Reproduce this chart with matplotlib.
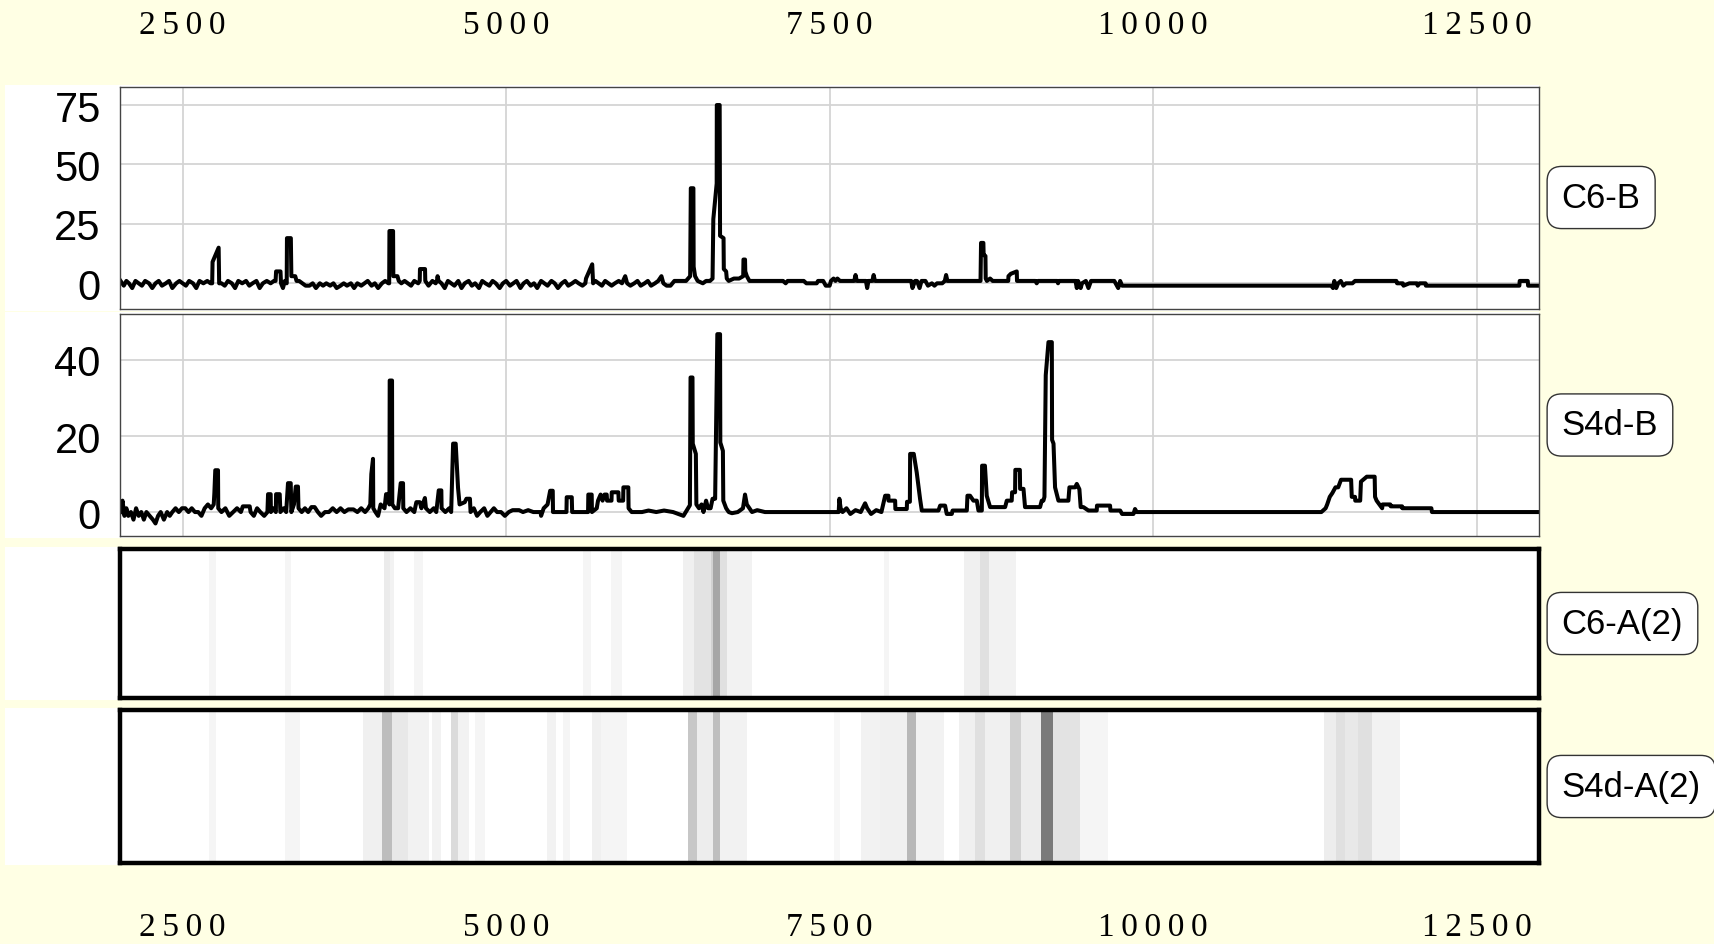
import matplotlib
matplotlib.use("Agg")
import matplotlib.pyplot as plt
from matplotlib.patches import Rectangle
from matplotlib.transforms import blended_transform_factory

plt.rcParams['font.family'] = ['Liberation Sans', 'DejaVu Sans']

# --------------------
# data
# --------------------
x_ticks = [2500, 5000, 7500, 10000, 12500]
x_range = (2018, 12982)

c6_yticks = [0, 25, 50, 75]
s4d_yticks = [0, 20, 40]

# C6-B coverage track (position, value)
c6_b = [
    (2020, 1), (2045, -1), (2065, 1), (2085, 0), (2110, -2), (2135, 1), (2160, 0), (2185, -1),
    (2210, 1), (2240, 0), (2265, -2), (2290, 0), (2315, 1), (2340, -1), (2370, 0), (2395, 1),
    (2420, -2), (2450, 0), (2475, 1), (2500, 0), (2525, -1), (2550, 1), (2580, 0), (2605, -2),
    (2630, 1), (2660, 0), (2690, 1), (2715, 0),
    (2728, 0), (2731, 9), (2778, 15), (2782, 0),
    (2800, 0), (2825, -1), (2850, 1), (2880, 0), (2905, -2), (2930, 1), (2960, 0), (2990, 1),
    (3015, -1), (3040, 0), (3070, 1), (3095, -2), (3120, 0), (3150, 1), (3180, 0), (3205, 1),
    (3218, 1), (3222, 5), (3256, 5), (3260, 0), (3275, -2), (3290, 1), (3304, 0), (3306, 19),
    (3336, 19), (3340, 3), (3370, 3), (3380, 1),
    (3400, 1), (3425, 0), (3450, -1), (3480, -1), (3505, 0), (3530, -2), (3560, 0), (3585, -1),
    (3610, 0), (3640, -1), (3665, 0), (3690, -2), (3720, -1), (3745, 0), (3770, -1), (3800, 0),
    (3825, -2), (3850, 0), (3880, -1), (3905, 0), (3930, 1), (3960, -1), (3985, 0), (4010, -2),
    (4040, 0), (4065, 1), (4090, 0),
    (4096, 0), (4098, 22), (4126, 22), (4128, 3), (4160, 3), (4170, 1),
    (4190, 0), (4215, 1), (4240, 0), (4265, -1), (4290, 1), (4320, 0), (4332, 1), (4334, 6),
    (4373, 6), (4375, 1), (4400, -1), (4430, 1), (4455, 0), (4465, 1), (4470, 3), (4478, 1),
    (4500, 0), (4525, -2), (4550, 1),
    (4575, 0), (4600, -1), (4630, 1), (4655, -2), (4680, 0), (4710, 1), (4735, -1), (4760, 0),
    (4790, -2), (4815, 1), (4840, 0), (4870, -1), (4895, 1), (4920, 0), (4950, -2), (4975, 0),
    (5000, 1), (5030, -1), (5055, 0), (5080, 1), (5110, -2), (5135, 0), (5160, 1), (5190, -1),
    (5215, 0), (5240, -2), (5270, 1), (5295, 0), (5320, -1), (5350, 1), (5375, 0), (5400, -2),
    (5430, 0), (5455, 1), (5480, -1), (5510, 0), (5535, 1), (5560, 0), (5590, -1),
    (5612, 0), (5617, 2), (5665, 8), (5672, 0),
    (5690, 1), (5715, 0), (5740, -1), (5765, 1), (5790, 0), (5815, -1), (5840, 0), (5870, 1),
    (5895, 0), (5920, 3), (5935, 0), (5960, -1), (5990, 0), (6015, 1), (6040, -1), (6070, 0),
    (6095, 1), (6120, -1), (6150, 0), (6175, 1), (6200, 3), (6215, 0), (6240, -1), (6270, -1),
    (6300, 1), (6390, 1),
    (6422, 3), (6427, 40), (6447, 40), (6449, 7), (6460, 3), (6480, 1), (6520, 0), (6545, 1),
    (6575, 1), (6595, 2), (6601, 27), (6627, 42), (6628, 75), (6650, 75), (6653, 20), (6680, 19),
    (6682, 6), (6700, 5), (6705, 2), (6720, 1), (6760, 2), (6800, 2), (6832, 3), (6834, 10),
    (6846, 10), (6848, 5), (6860, 3), (6880, 1),
    (6950, 1), (7140, 1), (7160, 0), (7175, 1), (7300, 1), (7320, 0), (7400, 0), (7410, 1),
    (7450, 1), (7470, -1), (7500, -1), (7510, 1), (7530, 2), (7545, 1), (7560, 2), (7580, 1),
    (7690, 1), (7700, 3.5), (7710, 1), (7780, 1), (7790, -2), (7800, 1), (7830, 1), (7840, 3.5),
    (7850, 1), (8130, 1), (8140, -2), (8160, 1), (8175, 1), (8195, -2), (8210, 1), (8240, 1),
    (8260, -1), (8290, 0), (8310, -1), (8330, 0), (8370, 0), (8390, 1), (8400, 3.5), (8410, 1),
    (8666, 1), (8670, 17), (8688, 17), (8690, 12), (8704, 11.5), (8706, 2), (8715, 1), (8740, 2),
    (8760, 1), (8880, 1), (8882, 3), (8900, 4), (8946, 5), (8948, 1), (9090, 1), (9100, 0),
    (9110, 1), (9260, 1), (9265, 0), (9270, 1), (9400, 1), (9410, -2), (9420, 1), (9440, -2),
    (9450, 0), (9480, 1), (9500, -2), (9520, 1), (9700, 1), (9730, -2), (9745, 1), (9760, -1),
    (11376, -1), (11390, -2), (11400, 1), (11415, -2), (11430, 0), (11450, 1), (11470, -1),
    (11490, 0), (11540, 0), (11560, 1), (11880, 1), (11885, 0), (11930, 0), (11935, -1),
    (11980, 0), (12040, 0), (12045, -1), (12060, 0), (12105, 0), (12108, -1), (12830, -1),
    (12833, 1), (12895, 1), (12898, -1), (12980, -1),
]

# S4d-B coverage track (position, value)
s4d_b = [
    (2020, 0), (2035, 3), (2050, -1), (2065, 1), (2080, -1), (2100, 0), (2120, -2), (2140, 1),
    (2160, -1), (2180, 0), (2200, -2), (2220, 0), (2245, -1), (2270, -2), (2290, -3), (2310, -1),
    (2330, 0), (2355, -2), (2380, 0), (2400, -1), (2420, 0), (2445, 1), (2470, 0), (2495, 1),
    (2520, 1), (2545, 0), (2570, 1), (2595, 0), (2620, 0), (2645, -1), (2670, 1), (2695, 2),
    (2720, 1), (2740, 2),
    (2745, 5), (2752, 11), (2773, 11), (2775, 1),
    (2800, 0), (2830, 1), (2860, -1), (2890, 0), (2920, 1), (2950, 0), (2965, 1.5), (3018, 1.5),
    (3025, 0), (3050, -1), (3075, 1), (3100, 0), (3130, -1), (3155, 0), (3160, 4.7), (3180, 4.7),
    (3182, 0), (3200, 1), (3220, 0), (3222, 4.7), (3250, 4.7), (3255, 0), (3280, 1), (3300, 0),
    (3314, 7.6), (3335, 7.6), (3340, 0), (3360, 2), (3374, 6.7), (3391, 6.7), (3395, 1),
    (3420, 0), (3445, 1), (3470, 0), (3495, 1.3), (3520, 1.3), (3545, 0), (3570, -1), (3600, 0),
    (3630, 0), (3660, 1), (3690, 0), (3720, 1), (3750, 0), (3780, 0.7), (3820, 0.7), (3850, 0),
    (3880, 1), (3910, 0), (3935, 1), (3950, 2),
    (3958, 10), (3971, 14), (3973, 1), (3990, 0), (4010, -1), (4030, 2), (4060, 1), (4072, 4.7),
    (4095, 4.7), (4098, 2), (4100, 34.6), (4118, 34.6), (4120, 2), (4140, 1), (4165, 1),
    (4185, 7.6), (4203, 7.6), (4205, 1), (4230, 0), (4260, 1), (4290, 0), (4306, 2.6),
    (4333, 2.6), (4345, 1), (4372, 3.7), (4380, 1), (4410, 0), (4440, 1), (4460, 0), (4479, 5.7),
    (4499, 5.7), (4501, 1), (4530, 0), (4560, 1), (4575, 0), (4590, 18), (4610, 18), (4628, 6.4),
    (4640, 2), (4680, 2.6), (4693, 3.5), (4720, 3.5), (4725, 0),
    (4750, 1), (4775, -1), (4800, 0), (4830, 1), (4855, -1), (4880, 0), (4905, 1), (4930, 0),
    (4960, 0), (4990, -1), (5020, 0), (5050, 0.5), (5100, 0.5), (5130, 0), (5170, 0.5),
    (5210, 0), (5266, 0),
    (5270, -1), (5290, 1), (5320, 2), (5340, 5.6), (5360, 5.6), (5362, 0), (5466, 0), (5468, 3.9),
    (5507, 3.9), (5510, 0), (5633, 0), (5635, 4.6), (5661, 4.6), (5663, 0), (5700, 1), (5710, 3),
    (5730, 4.6), (5745, 3), (5760, 4.6), (5777, 4.6), (5780, 3), (5814, 3), (5816, 5.2),
    (5867, 5.2), (5870, 3), (5904, 3), (5906, 6.5), (5944, 6.5), (5946, 1), (5970, 0),
    (6050, 0), (6100, 0.4), (6160, 0), (6220, 0.4), (6290, 0), (6370, -1), (6420, 1.8),
    (6425, 35.4), (6440, 35.4), (6442, 18), (6466, 15.3), (6470, 2), (6490, 1), (6510, 2),
    (6525, 0), (6545, 3), (6560, 1), (6580, 1), (6595, 3.5), (6615, 3.5), (6632, 46.8),
    (6653, 46.8), (6655, 18.3), (6675, 16.1), (6678, 3), (6700, 1), (6720, 0), (6745, -0.3),
    (6790, 0), (6830, 1), (6846, 4.6), (6860, 2), (6880, 1), (6900, 0), (6940, 0.5), (7000, 0),
    (7570, 0), (7575, 3.5), (7585, 1), (7600, 0), (7630, 1), (7660, -0.5), (7700, 0.5),
    (7740, 0), (7774, 2.3), (7790, 1), (7820, -0.5), (7860, 0.5), (7900, 0), (7929, 4.3),
    (7954, 4.3), (7955, 3), (8006, 3), (8008, 0.8), (8096, 0.8), (8098, 2.7), (8120, 2.7),
    (8122, 15.3), (8150, 15.3), (8173, 10.4), (8199, 3.4), (8212, 0.4), (8341, 0.4), (8354, 1.7),
    (8392, 1.7), (8405, -0.5), (8444, -0.5), (8450, 0.4), (8560, 0.4), (8565, 4.3), (8585, 4.3),
    (8611, 3), (8637, 3), (8650, 0.4), (8676, 0.4), (8678, 12.2), (8700, 12.2), (8714, 4.3),
    (8740, 1.3), (8856, 1.3), (8869, 3), (8907, 3), (8910, 5.2), (8933, 5.2), (8935, 11.1),
    (8970, 11.1), (8972, 6.1), (8998, 6.1), (9010, 1.3), (9126, 1.3), (9139, 3), (9152, 3),
    (9160, 4), (9170, 36), (9191, 44.7), (9217, 44.7), (9219, 19), (9230, 18), (9242, 6.5),
    (9268, 3), (9345, 3), (9353, 6.5), (9397, 6.5), (9410, 7.4), (9430, 6), (9440, 1.3),
    (9461, 1.3), (9500, 0.4), (9564, 0.4), (9566, 1.7), (9667, 1.7), (9670, 0.4), (9745, 0.4),
    (9760, -0.5), (9848, -0.5), (9860, 0.8), (9873, 0),
    (11300, 0), (11333, 1), (11345, 2), (11365, 4), (11385, 5), (11409, 6.5), (11430, 6.5),
    (11452, 8.5), (11530, 8.5), (11535, 4), (11560, 4), (11562, 3), (11600, 3), (11606, 8),
    (11651, 9.3), (11712, 9.3), (11715, 4), (11727, 3), (11770, 1), (11773, 2), (11833, 2),
    (11836, 1.5), (11924, 1.5), (11926, 1), (12150, 1), (12155, 0), (12980, 0),
]

# heatmap bands: (start, end, darkness 0..1)
c6_a2 = [
    (2705, 2761, 0.04), (3290, 3340, 0.04), (4058, 4100, 0.08), (4100, 4130, 0.05),
    (4291, 4361, 0.04), (5595, 5652, 0.04), (5807, 5898, 0.04), (6370, 6450, 0.06),
    (6450, 6580, 0.11), (6580, 6600, 0.18), (6600, 6655, 0.35), (6655, 6710, 0.12),
    (6710, 6900, 0.05), (7921, 7956, 0.04), (8541, 8660, 0.06), (8660, 8730, 0.12),
    (8730, 8944, 0.05),
]
s4d_a2 = [
    (2705, 2761, 0.04), (3290, 3410, 0.04), (3890, 4044, 0.06), (4044, 4115, 0.26),
    (4115, 4240, 0.09), (4240, 4400, 0.05), (4430, 4500, 0.05), (4573, 4630, 0.14),
    (4630, 4715, 0.05), (4760, 4835, 0.04), (5313, 5383, 0.05), (5440, 5490, 0.04),
    (5665, 5735, 0.06), (5735, 5933, 0.04), (6406, 6476, 0.22), (6476, 6596, 0.07),
    (6596, 6652, 0.25), (6652, 6865, 0.05), (7534, 7583, 0.03), (7745, 7886, 0.05),
    (7886, 8097, 0.06), (8097, 8168, 0.28), (8168, 8380, 0.05), (8500, 8626, 0.06),
    (8626, 8697, 0.12), (8697, 8894, 0.06), (8894, 8979, 0.18), (8979, 9133, 0.07),
    (9133, 9226, 0.52), (9226, 9437, 0.11), (9437, 9648, 0.04), (11319, 11411, 0.07),
    (11411, 11481, 0.12), (11481, 11587, 0.09), (11587, 11692, 0.12), (11692, 11904, 0.05),
]

track_names = ["C6-B", "S4d-B", "C6-A(2)", "S4d-A(2)"]

# --------------------
# layout
# --------------------
W, H = 1715, 945
fig = plt.figure(figsize=(W / 100, H / 100), dpi=100, facecolor='#FFFFE4')

left = 120.3 / W
width = (1539 - 120.3) / W
# (top, bottom) in pixels for every track
rows = [(87.5, 309.5), (315, 537), (550, 699), (711, 864)]

axes = []
for top, bot in rows:
    fig.patches.append(Rectangle((5 / W, 1 - (bot + 2) / H), left + width - 5 / W,
                                 (bot - top + 4) / H, transform=fig.transFigure,
                                 fc='white', ec='none', zorder=-1))
    ax = fig.add_axes([left, 1 - bot / H, width, (bot - top) / H])
    ax.set_xlim(*x_range)
    axes.append(ax)

ax1, ax2, ax3, ax4 = axes

# line tracks
for ax, pts, yt, ylim in [(ax1, c6_b, c6_yticks, (-10.6, 82.8)),
                          (ax2, s4d_b, s4d_yticks, (-6.3, 52.1))]:
    xs, ys = zip(*pts)
    ax.plot(xs, ys, color='black', lw=2.9)
    ax.set_ylim(*ylim)
    ax.set_yticks(yt)
    ax.set_xticks(x_ticks)
    ax.grid(True, color='#d4d4d4', lw=1.3)
    ax.set_axisbelow(True)
    ax.tick_params(length=0, labelbottom=False, labelsize=30, pad=14)
    for s in ax.spines.values():
        s.set_color('#444444')
        s.set_linewidth(1.0)

# heatmap tracks
for ax, bands in [(ax3, c6_a2), (ax4, s4d_a2)]:
    for start, end, level in bands:
        ax.axvspan(start, end, color=str(1 - level), lw=0)
    ax.set_ylim(0, 1)
    ax.set_xticks([])
    ax.set_yticks([])
    for s in ax.spines.values():
        s.set_color('black')
        s.set_linewidth(3.2)

# track name boxes on the right
for ax, name in zip(axes, track_names):
    ax.text(1.016, 0.5, name, transform=ax.transAxes, ha='left', va='center',
            fontsize=25, bbox=dict(boxstyle='round,pad=0.42', fc='white', ec='#333333', lw=1))

# position labels above and below the tracks
xlab_font = dict(family=['Liberation Serif', 'DejaVu Serif'], fontsize=24)
tr = blended_transform_factory(ax1.transData, fig.transFigure)
for t in x_ticks:
    lab = '\u2009'.join(str(t))
    fig.text(t, 1 - 26 / H, lab, transform=tr, ha='center', va='center', **xlab_font)
    fig.text(t, 1 - 928 / H, lab, transform=tr, ha='center', va='center', **xlab_font)

fig.savefig("out.png", dpi=100, facecolor=fig.get_facecolor())
